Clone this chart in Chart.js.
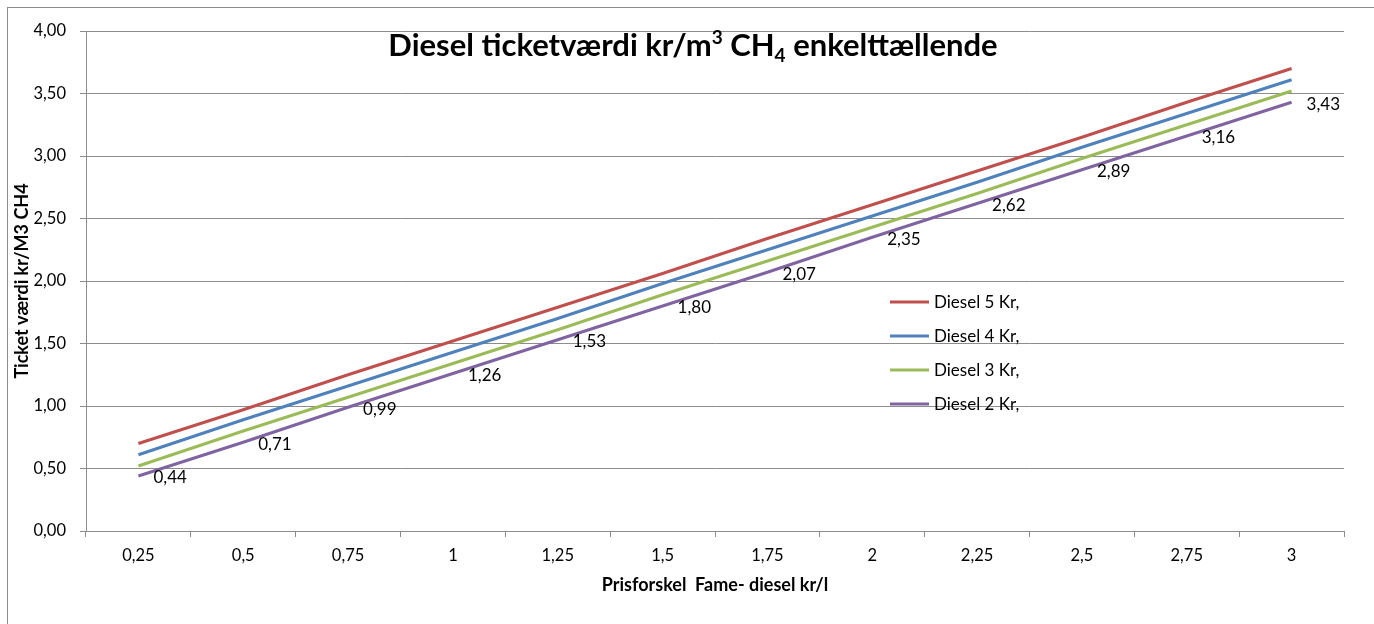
<!DOCTYPE html>
<html>
<head>
<meta charset="utf-8">
<script src="https://cdn.jsdelivr.net/npm/chart.js@4"></script>
<style>
  html, body { margin: 0; padding: 0; background: #fff; }
  #wrap { width: 1374px; height: 624px; position: relative; }
</style>
</head>
<body>
<div id="wrap"><canvas id="mycanvas" width="1374" height="624"></canvas></div>
<script>
// chart data
const categories = ['0,25', '0,5', '0,75', '1', '1,25', '1,5', '1,75', '2', '2,25', '2,5', '2,75', '3'];
const diesel5 = [0.70, 0.97, 1.25, 1.52, 1.79, 2.06, 2.34, 2.61, 2.88, 3.15, 3.43, 3.70];
const diesel4 = [0.61, 0.89, 1.16, 1.43, 1.70, 1.98, 2.25, 2.52, 2.79, 3.07, 3.34, 3.61];
const diesel3 = [0.52, 0.80, 1.07, 1.34, 1.61, 1.89, 2.16, 2.43, 2.70, 2.98, 3.25, 3.52];
const diesel2 = [0.44, 0.71, 0.99, 1.26, 1.53, 1.80, 2.07, 2.35, 2.62, 2.89, 3.16, 3.43];
const seriesNames = ['Diesel 5 Kr,', 'Diesel 4 Kr,', 'Diesel 3 Kr,', 'Diesel 2 Kr,'];
const seriesColors = ['#C0504D', '#4F81BD', '#9BBB59', '#8064A2'];

const FONT = 'Lato, "Open Sans", sans-serif';

function fmt(v) {
    return v.toFixed(2).replace('.', ',');
}

function createChart() {
    const ctx = document.getElementById('mycanvas').getContext('2d');

    // outer frame + title
    const frameAndTitle = {
        id: 'frameAndTitle',
        beforeDraw: chart => {
            const c = chart.ctx;
            c.save();
            c.strokeStyle = '#8c8c8c';
            c.lineWidth = 1;
            c.strokeRect(7.5, 7.5, 1400, 640);
            c.restore();
        },
        afterDraw: chart => {
            const c = chart.ctx;
            c.save();
            c.fillStyle = '#000';
            c.textBaseline = 'alphabetic';
            // title pieces: normal, sup, normal, sub, normal
            const big = 'bold 31px ' + FONT;
            const small = 'bold 19px ' + FONT;
            const parts = [
                { t: 'Diesel ticketværdi kr/m', f: big, dy: 0 },
                { t: '3', f: small, dy: -12 },
                { t: ' CH', f: big, dy: 0 },
                { t: '4', f: small, dy: 6 },
                { t: ' enkelttællende', f: big, dy: 0 },
            ];
            let w = 0;
            parts.forEach(p => { c.font = p.f; p.w = c.measureText(p.t).width; w += p.w; });
            let x = 693 - w / 2;
            const y = 56;
            parts.forEach(p => {
                c.font = p.f;
                c.fillText(p.t, x, y + p.dy);
                x += p.w;
            });
            c.restore();
        }
    };

    // value labels for the last series, to the right of each point
    const valueLabels = {
        id: 'valueLabels',
        afterDatasetsDraw: chart => {
            const c = chart.ctx;
            const meta = chart.getDatasetMeta(3);
            c.save();
            c.font = '17px ' + FONT;
            c.fillStyle = '#000';
            c.textAlign = 'left';
            c.textBaseline = 'middle';
            meta.data.forEach((pt, i) => {
                c.fillText(fmt(diesel2[i]), pt.x + 15, pt.y + 2);
            });
            c.restore();
        }
    };

    // legend inside plot area
    const innerLegend = {
        id: 'innerLegend',
        afterDatasetsDraw: chart => {
            const c = chart.ctx;
            c.save();
            c.font = '17px ' + FONT;
            c.textAlign = 'left';
            c.textBaseline = 'middle';
            seriesNames.forEach((name, i) => {
                const y = 302 + i * 34;
                c.strokeStyle = seriesColors[i];
                c.lineWidth = 3;
                c.beginPath();
                c.moveTo(890, y);
                c.lineTo(929, y);
                c.stroke();
                c.fillStyle = '#000';
                c.fillText(name, 934, y + 1);
            });
            c.restore();
        }
    };

    const allData = [diesel5, diesel4, diesel3, diesel2];

    const myChart = new Chart(ctx, {
        type: 'line',
        data: {
            labels: categories,
            datasets: allData.map((d, i) => ({
                label: seriesNames[i],
                data: d,
                borderColor: seriesColors[i],
                backgroundColor: seriesColors[i],
                borderWidth: 3,
                pointRadius: 0,
                fill: false,
                tension: 0,
            })),
        },
        options: {
            responsive: false,
            animation: false,
            layout: {
                padding: { left: 0, top: 31, right: 30, bottom: 0 },
            },
            plugins: {
                legend: { display: false },
                tooltip: { enabled: false },
                title: { display: false },
            },
            scales: {
                x: {
                    offset: true,
                    grid: {
                        offset: true,
                        drawOnChartArea: false,
                        drawTicks: true,
                        tickLength: 6,
                        color: '#8c8c8c',
                    },
                    border: { color: '#8c8c8c', width: 1 },
                    ticks: {
                        color: '#000',
                        font: { family: FONT, size: 16.5 },
                        padding: 9,
                        maxRotation: 0,
                        autoSkip: false,
                    },
                    title: {
                        display: true,
                        text: 'Prisforskel  Fame- diesel kr/l',
                        color: '#000',
                        font: { family: FONT, size: 18, weight: 'bold' },
                        padding: { top: 0, bottom: 28 },
                    },
                    afterFit: scale => { scale.height = 93; },
                },
                y: {
                    min: 0,
                    max: 4,
                    grid: {
                        color: '#8c8c8c',
                        tickLength: 6,
                    },
                    border: { color: '#8c8c8c', width: 1 },
                    ticks: {
                        stepSize: 0.5,
                        color: '#000',
                        font: { family: FONT, size: 16.5 },
                        padding: 14,
                        callback: v => fmt(v),
                    },
                    title: {
                        display: true,
                        text: 'Ticket værdi kr/M3 CH4',
                        color: '#000',
                        font: { family: FONT, size: 18, weight: 'bold' },
                        padding: { top: 11, bottom: 0 },
                    },
                    afterFit: scale => { scale.width = 86; },
                },
            },
        },
        plugins: [frameAndTitle, valueLabels, innerLegend],
    });
}

createChart();
</script>
</body>
</html>
